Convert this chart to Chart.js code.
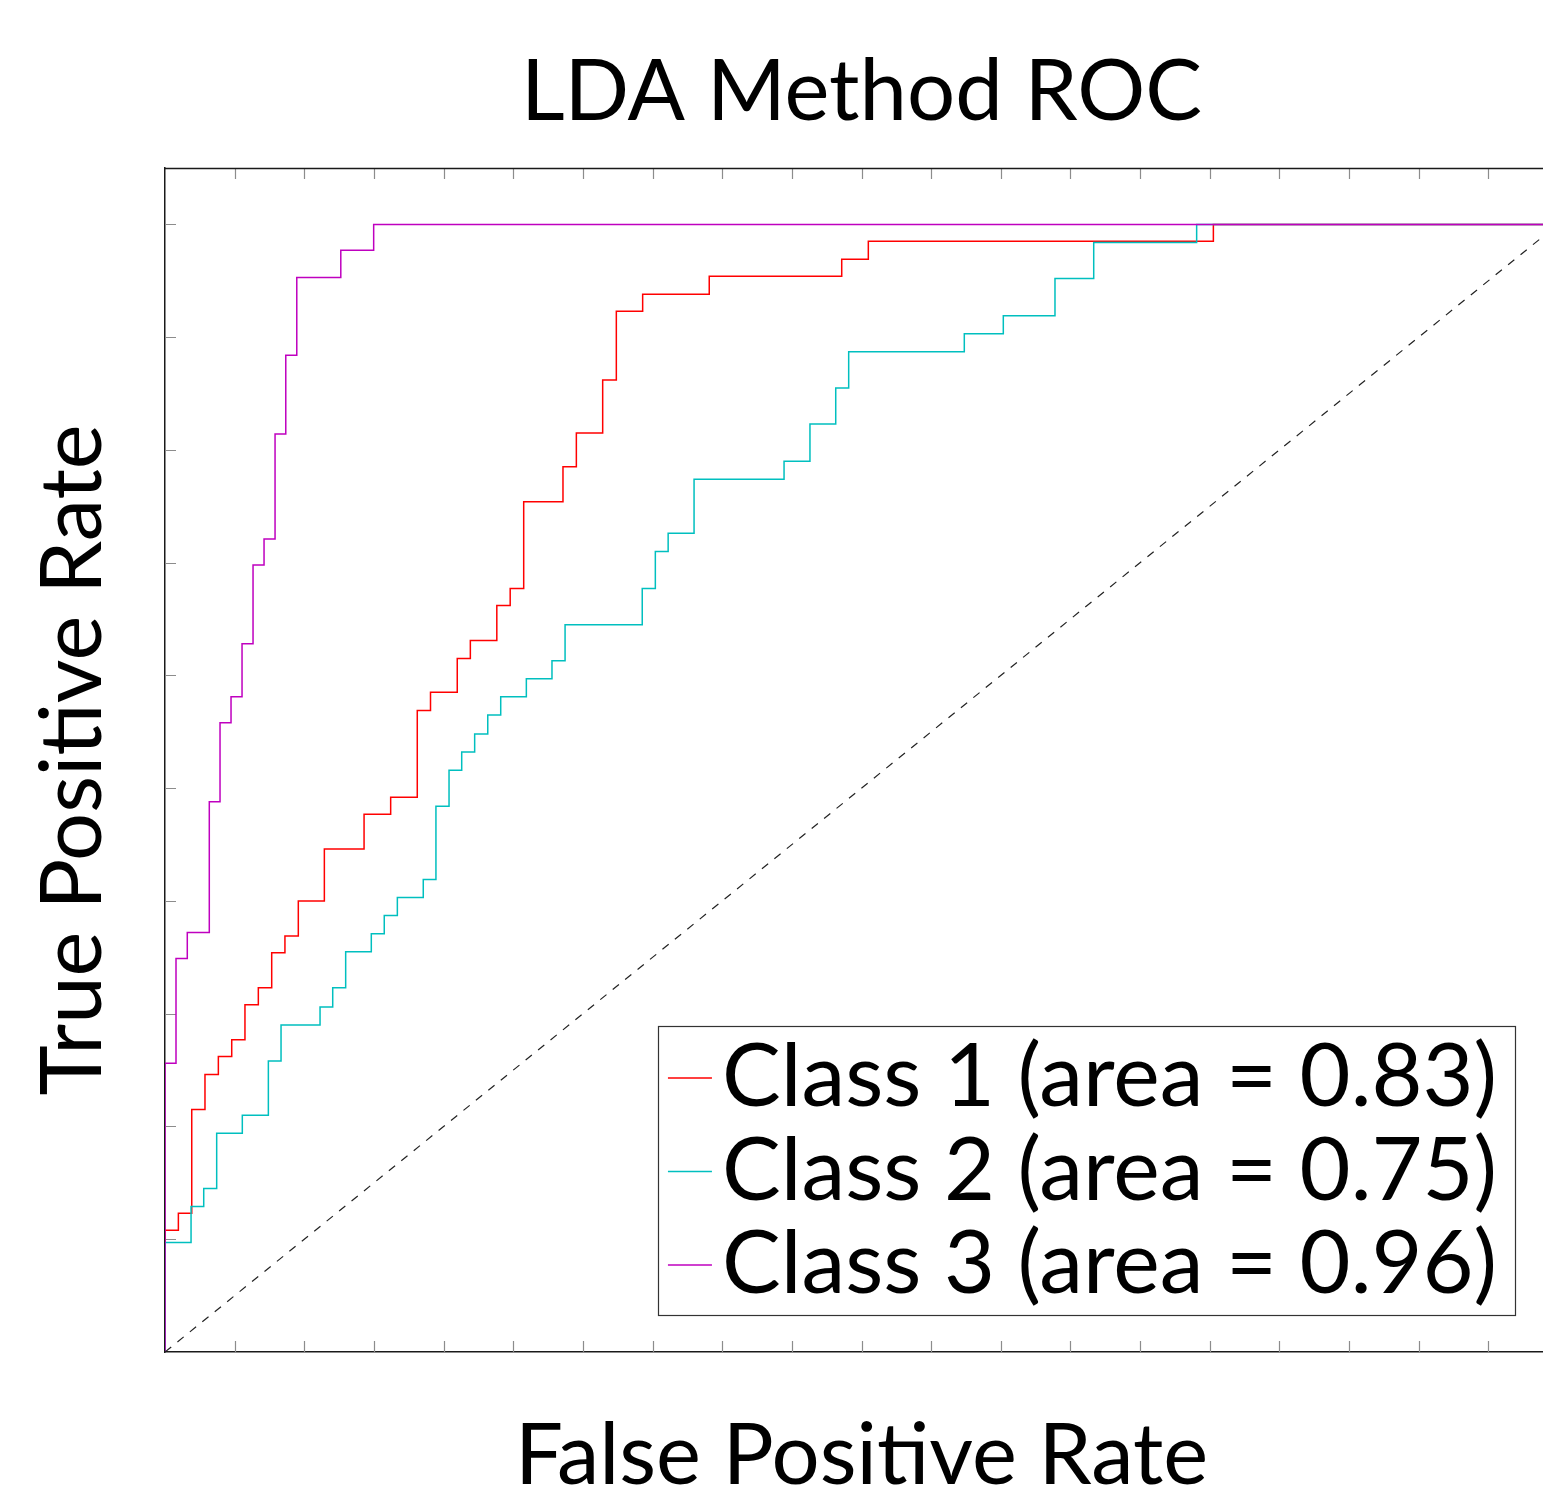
<!DOCTYPE html>
<html>
<head>
<meta charset="utf-8">
<title>LDA Method ROC</title>
<script src="https://cdn.jsdelivr.net/npm/chart.js@4.4.1/dist/chart.umd.min.js"></script>
<style>
    html, body { margin: 0; padding: 0; background: #fff; overflow: hidden; }
    /* the original figure is cut off on the right, just past x = 0.99 */
    #wrap { width: 1543px; height: 1493px; overflow: hidden; }
    #roc { display: block; }
</style>
</head>
<body>
<div id="wrap"><canvas id="roc" width="1560" height="1493"></canvas></div>
<script>
// =====================================
// DATA
// =====================================

const classLabels = [
    'Class 1 (area = 0.83)',
    'Class 2 (area = 0.75)',
    'Class 3 (area = 0.96)'
];

// each point is the top of a vertical jump (stepped line)
const class1Fpr = [0, 0, 0.0096, 0.0192, 0.0287, 0.0383, 0.0479, 0.0574, 0.0670, 0.0766, 0.0861,
    0.0957, 0.1144, 0.1429, 0.1620, 0.1811, 0.1906, 0.2098, 0.2192, 0.2382, 0.2478, 0.2575,
    0.2857, 0.2953, 0.3142, 0.3240, 0.3429, 0.3907, 0.4858, 0.5049, 0.7526, 1.0];
const class1Tpr = [0, 0.108, 0.123, 0.215, 0.246, 0.262, 0.277, 0.308, 0.323, 0.354, 0.369,
    0.400, 0.446, 0.477, 0.492, 0.569, 0.585, 0.615, 0.631, 0.662, 0.677, 0.754,
    0.785, 0.815, 0.862, 0.923, 0.938, 0.954, 0.969, 0.985, 1.0, 1.0];

const class2Fpr = [0, 0, 0.0187, 0.0278, 0.0371, 0.0555, 0.0742, 0.0833, 0.1113, 0.1204, 0.1297,
    0.1481, 0.1574, 0.1668, 0.1854, 0.1945, 0.2039, 0.2130, 0.2223, 0.2317, 0.2410, 0.2594,
    0.2778, 0.2872, 0.3426, 0.3520, 0.3612, 0.3798, 0.4444, 0.4630, 0.4815, 0.4908, 0.5738,
    0.6018, 0.6389, 0.6667, 0.7406, 1.0];
const class2Tpr = [0, 0.097, 0.129, 0.145, 0.194, 0.210, 0.258, 0.290, 0.306, 0.323, 0.355,
    0.371, 0.387, 0.403, 0.419, 0.484, 0.516, 0.532, 0.548, 0.565, 0.581, 0.597,
    0.613, 0.645, 0.677, 0.710, 0.726, 0.774, 0.790, 0.823, 0.855, 0.887, 0.903,
    0.919, 0.952, 0.984, 1.0, 1.0];

const class3Fpr = [0, 0, 0.0079, 0.0160, 0.0318, 0.0395, 0.0474, 0.0553, 0.0632, 0.0711, 0.0790,
    0.0867, 0.0946, 0.1262, 0.1498, 1.0];
const class3Tpr = [0, 0.256, 0.349, 0.372, 0.488, 0.558, 0.581, 0.628, 0.698, 0.721, 0.814,
    0.884, 0.953, 0.977, 1.0, 1.0];

const chanceFpr = [0, 1];
const chanceTpr = [0, 1];

const classColors = ['#ff0000', '#00bfbf', '#bf00bf'];


// =====================================
// HELPERS
// =====================================

const FONT = 'Lato, "DejaVu Sans", sans-serif';
const AXIS_SIZE = 85;
const LEGEND_SIZE = 88;

function toPoints(xs, ys) {
    return xs.map((x, i) => ({ x: x, y: ys[i] }));
}

function rocDataset(label, xs, ys, color, order) {
    return {
        label: label,
        data: toPoints(xs, ys),
        borderColor: color,
        backgroundColor: color,
        borderWidth: 1.5,
        showLine: true,
        stepped: true,
        pointRadius: 0,
        fill: false,
        order: order
    };
}


// =====================================
// PLUGINS: inward ticks + top frame, inset legend
// =====================================

const innerTicks = {
    id: 'innerTicks',
    beforeDatasetsDraw(chart) {
        const { ctx, chartArea: a, scales } = chart;
        ctx.save();
        ctx.strokeStyle = '#8c8c8c';
        ctx.lineWidth = 1.2;
        ctx.beginPath();
        scales.x.ticks.forEach(t => {
            if (t.value <= 0 || t.value >= 1) return;
            const px = Math.round(scales.x.getPixelForValue(t.value)) + 0.5;
            ctx.moveTo(px, a.bottom);
            ctx.lineTo(px, a.bottom - 11);
            ctx.moveTo(px, a.top);
            ctx.lineTo(px, a.top + 11);
        });
        scales.y.ticks.forEach(t => {
            if (t.value <= 0 || t.value > 1.0001) return;
            const py = Math.round(scales.y.getPixelForValue(t.value)) + 0.5;
            ctx.moveTo(a.left, py);
            ctx.lineTo(a.left + 11, py);
            ctx.moveTo(a.right, py);
            ctx.lineTo(a.right - 11, py);
        });
        ctx.stroke();

        ctx.strokeStyle = '#1a1a1a';
        ctx.lineWidth = 1.5;
        ctx.beginPath();
        ctx.moveTo(a.left, a.top + 0.5);
        ctx.lineTo(a.right, a.top + 0.5);
        ctx.lineTo(a.right, a.bottom);
        ctx.stroke();
        ctx.restore();
    }
};

const insetLegend = {
    id: 'insetLegend',
    afterDraw(chart) {
        const { ctx, chartArea: a } = chart;
        const items = chart.data.datasets.filter(ds => ds.label);

        ctx.save();
        ctx.font = LEGEND_SIZE + 'px ' + FONT;
        const textW = Math.max(...items.map(ds => ctx.measureText(ds.label).width));

        const rowH = 93.5;
        const boxW = 64 + textW + 18;
        const boxH = 289;
        const right = a.right - 43;
        const bottom = a.bottom - 37;
        const left = right - boxW;
        const top = bottom - boxH;

        ctx.fillStyle = '#fff';
        ctx.fillRect(left, top, boxW, boxH);
        ctx.strokeStyle = '#333';
        ctx.lineWidth = 1.2;
        ctx.strokeRect(Math.round(left) + 0.5, Math.round(top) + 0.5, Math.round(boxW), Math.round(boxH));

        items.forEach((ds, i) => {
            const cy = top + 52 + i * rowH;
            ctx.strokeStyle = ds.borderColor;
            ctx.lineWidth = 1.5;
            ctx.beginPath();
            ctx.moveTo(left + 10, cy);
            ctx.lineTo(left + 54, cy);
            ctx.stroke();

            ctx.fillStyle = '#000';
            ctx.textBaseline = 'middle';
            ctx.textAlign = 'left';
            ctx.fillText(ds.label, left + 64, cy);
        });
        ctx.restore();
    }
};


// =====================================
// ROC CHART
// =====================================

new Chart(document.getElementById('roc'), {

    type: 'scatter',

    data: {
        datasets: [
            rocDataset(classLabels[0], class1Fpr, class1Tpr, classColors[0], 3),
            rocDataset(classLabels[1], class2Fpr, class2Tpr, classColors[1], 2),
            rocDataset(classLabels[2], class3Fpr, class3Tpr, classColors[2], 1),
            {
                label: '',
                data: toPoints(chanceFpr, chanceTpr),
                borderColor: '#222',
                borderWidth: 1.2,
                borderDash: [8, 8],
                showLine: true,
                pointRadius: 0,
                fill: false,
                order: 0
            }
        ]
    },

    options: {
        responsive: false,
        animation: false,
        devicePixelRatio: 1,

        layout: {
            padding: { left: 0, right: 2, top: 0, bottom: 0 }
        },

        plugins: {
            legend: { display: false },
            tooltip: { enabled: false },
            title: {
                display: true,
                text: 'LDA Method ROC',
                fullSize: false,
                color: '#000',
                font: { family: FONT, size: AXIS_SIZE, weight: 'normal', lineHeight: 0.8 },
                padding: { top: 59, bottom: 41 }
            }
        },

        scales: {
            x: {
                type: 'linear',
                min: 0,
                max: 1.0,
                ticks: { display: false, stepSize: 0.05 },
                grid: { display: false, drawTicks: false },
                border: { display: true, color: '#1a1a1a', width: 1.5 },
                title: {
                    display: true,
                    text: 'False Positive Rate',
                    color: '#000',
                    font: { family: FONT, size: AXIS_SIZE, lineHeight: 0.8 },
                    padding: { top: 71, bottom: 2 }
                }
            },
            y: {
                type: 'linear',
                min: 0,
                max: 1.05,
                ticks: { display: false, stepSize: 0.1 },
                grid: { display: false, drawTicks: false },
                border: { display: true, color: '#1a1a1a', width: 1.5 },
                title: {
                    display: true,
                    text: 'True Positive Rate',
                    color: '#000',
                    font: { family: FONT, size: AXIS_SIZE, lineHeight: 0.8 },
                    padding: { top: 39.5, bottom: 57.5 }
                }
            }
        }
    },

    plugins: [innerTicks, insetLegend]
});
</script>
</body>
</html>
